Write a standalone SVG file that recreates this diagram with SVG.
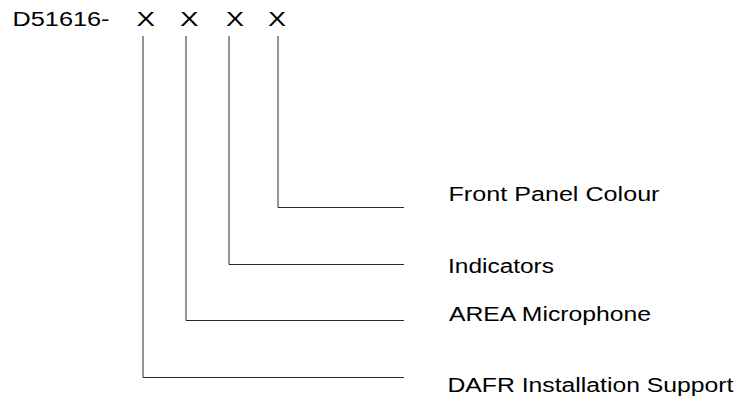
<svg xmlns="http://www.w3.org/2000/svg" width="737" height="398" viewBox="0 0 737 398">
<style>
.t{font-family:"Liberation Sans",Arial,sans-serif;font-size:20px;fill:#000}
.c{fill:none;stroke:#2a2a2a;stroke-width:1}
</style>
<rect width="737" height="398" fill="#fff"/>
<g id="code"><text class="t" x="12.5" y="25.5" textLength="97" lengthAdjust="spacingAndGlyphs">D51616-</text></g>
<g id="x1"><text class="t" x="136.5" y="25.5" textLength="18.5" lengthAdjust="spacingAndGlyphs">X</text></g>
<g id="x2"><text class="t" x="180" y="25.5" textLength="18.5" lengthAdjust="spacingAndGlyphs">X</text></g>
<g id="x3"><text class="t" x="226" y="25.5" textLength="18" lengthAdjust="spacingAndGlyphs">X</text></g>
<g id="x4"><text class="t" x="268" y="25.5" textLength="18" lengthAdjust="spacingAndGlyphs">X</text></g>
<g id="connectors">
<polyline class="c" points="278,36 278,207.5 404,207.5"/>
<polyline class="c" points="229,36 229,264.5 404,264.5"/>
<polyline class="c" points="186,36 186,320.5 404,320.5"/>
<polyline class="c" points="143,36 143,377.5 404,377.5"/>
</g>
<g id="front"><text class="t" x="448.5" y="201" textLength="211" lengthAdjust="spacingAndGlyphs">Front Panel Colour</text></g>
<g id="ind"><text class="t" x="448" y="272.5" textLength="106" lengthAdjust="spacingAndGlyphs">Indicators</text></g>
<g id="mic"><text class="t" x="449" y="320.5" textLength="202" lengthAdjust="spacingAndGlyphs">AREA Microphone</text></g>
<g id="dafr"><text class="t" x="447.5" y="391.5" textLength="286" lengthAdjust="spacingAndGlyphs">DAFR Installation Support</text></g>
</svg>
